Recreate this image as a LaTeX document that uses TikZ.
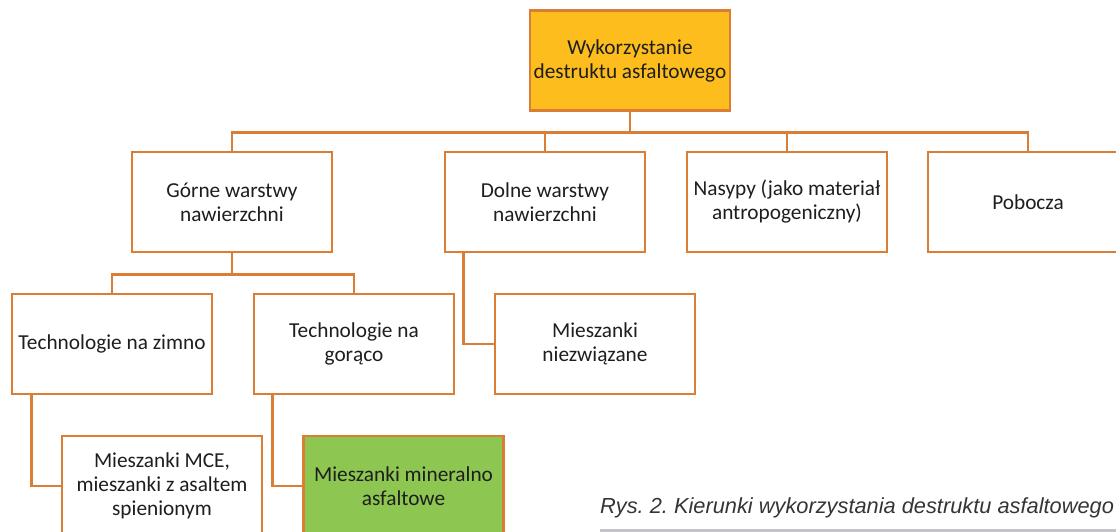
\documentclass[tikz,border=0pt]{standalone}
\usepackage{fontspec}
\setmainfont{Carlito}
\newfontfamily\capfont{Liberation Sans}
\definecolor{edge}{HTML}{DB7E35}
\definecolor{gold}{HTML}{FDBD1C}
\definecolor{leaf}{HTML}{8DC650}
\definecolor{ink}{HTML}{1E1E1E}
\definecolor{rulegray}{HTML}{C3C3C8}
\begin{document}
\frenchspacing
\begin{tikzpicture}[x=1pt,y=-1pt,
  box/.style={draw=edge, line width=2.8pt, fill=white, minimum width=200pt, minimum height=100pt,
    inner sep=2pt, align=center, font=\fontsize{21.3}{24}\selectfont, text=ink},
  link/.style={draw=edge, line width=2.8pt}]
\useasboundingbox (0,0) rectangle (1116,532);
\clip (0,0) rectangle (1116,532);
\node[box, fill=gold] (root) at (630,60.5) {Wykorzystanie\\destruktu asfaltowego};
\node[box] (gorne) at (232,202) {Górne warstwy\\nawierzchni};
\node[box] (dolne) at (545,202) {Dolne warstwy\\nawierzchni};
\node[box] (nasypy) at (787,202) {Nasypy (jako materiał\\antropogeniczny)};
\node[box] (pobocza) at (1028,202) {Pobocza};
\node[box] (zimno) at (112,344) {Technologie na zimno};
\node[box] (goraco) at (354,344) {Technologie na\\gorąco};
\node[box] (niezw) at (595,344) {Mieszanki\\niezwiązane};
\node[box] (mce) at (162,486) {Mieszanki MCE,\\mieszanki z asaltem\\spienionym};
\node[box, fill=leaf] (mma) at (403.5,486) {Mieszanki mineralno\\asfaltowe};
% connectors
\draw[link] (root.south) -- ++(0,21) -| (gorne.north);
\draw[link] (root.south) -- ++(0,21) -| (dolne.north);
\draw[link] (root.south) -- ++(0,21) -| (nasypy.north);
\draw[link] (root.south) -- ++(0,21) -| (pobocza.north);
\draw[link] (gorne.south) -- ++(0,21) -| (zimno.north);
\draw[link] (gorne.south) -- ++(0,21) -| (goraco.north);
\draw[link] ([xshift=20pt]dolne.south west) |- (niezw.west);
\draw[link] ([xshift=21pt]zimno.south west) |- (mce.west);
\draw[link] ([xshift=20pt]goraco.south west) |- (mma.west);
% caption
\node[anchor=base west, inner sep=0pt, font=\capfont\itshape\fontsize{21.8}{24}\selectfont, text=ink!90]
  (cap) at (600,513) {Rys. 2. Kierunki wykorzystania destruktu asfaltowego};
\fill[rulegray] (600,529) rectangle (1116,533);
\end{tikzpicture}
\end{document}
